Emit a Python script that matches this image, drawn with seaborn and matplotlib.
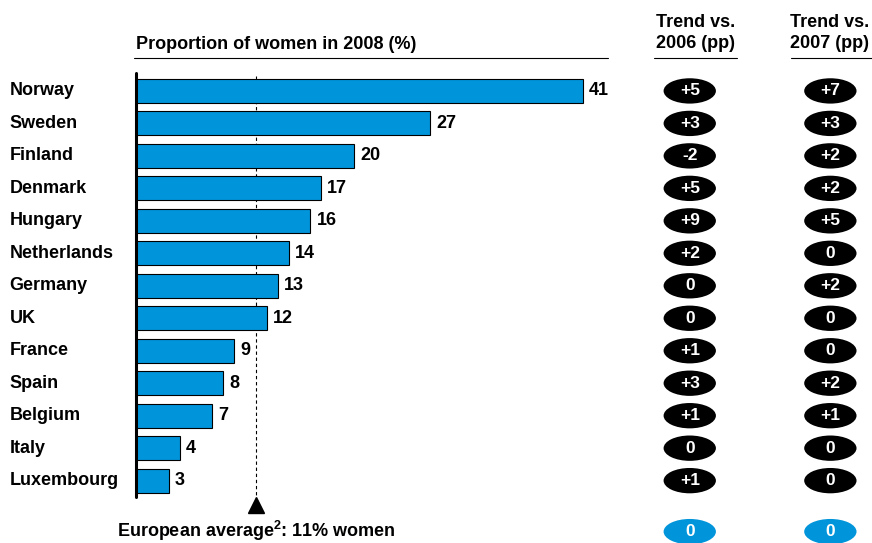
import pandas as pd
import seaborn as sns
import matplotlib.pyplot as plt
from matplotlib.patches import Ellipse

# Chart data
countries = ["Norway", "Sweden", "Finland", "Denmark", "Hungary", "Netherlands", "Germany",
             "UK", "France", "Spain", "Belgium", "Italy", "Luxembourg"]
women_share = [41, 27, 20, 17, 16, 14, 13, 12, 9, 8, 7, 4, 3]
trend_2006 = ["+5", "+3", "-2", "+5", "+9", "+2", "0", "0", "+1", "+3", "+1", "0", "+1"]
trend_2007 = ["+7", "+3", "+2", "+2", "+5", "0", "+2", "0", "0", "+2", "+1", "0", "0"]
trend_headers = ["Trend vs.\n2006 (pp)", "Trend vs.\n2007 (pp)"]
european_avg = 11
avg_trend_2006 = "0"
avg_trend_2007 = "0"

df = pd.DataFrame({"Country": countries, "Share": women_share})

blue = "#0095DA"
sns.set_style("white")
plt.rcParams["font.family"] = ["Liberation Sans", "DejaVu Sans"]
plt.rcParams["text.color"] = "black"
plt.rcParams["mathtext.fontset"] = "custom"
plt.rcParams["mathtext.bf"] = "Liberation Sans:bold"
plt.rcParams["mathtext.rm"] = "Liberation Sans:bold"

fig = plt.figure(figsize=(8.72, 5.43), dpi=100)
ax = fig.add_axes([0, 0, 1, 1])

# Bars
sns.barplot(data=df, x="Share", y="Country", orient="h", color=blue,
            edgecolor="black", linewidth=0.8, width=0.74, saturation=1, ax=ax)

# Data units are laid out to fill the whole figure
ax.set_xlim(-12.48, 67.52)
ax.set_ylim(13.92, -2.8)
ax.axis("off")

fs = 13
for i, (c, v) in enumerate(zip(countries, women_share)):
    ax.text(-11.6, i, c, ha="left", va="center", fontsize=fs, fontweight="bold")
    ax.text(v + 0.55, i, str(v), ha="left", va="center", fontsize=fs, fontweight="bold")

# Value axis line and average line
ax.plot([0, 0], [-0.55, 12.5], color="black", lw=2.2, clip_on=False)
ax.plot([european_avg, european_avg], [-0.45, 12.65], color="black", lw=0.8,
        ls=(0, (3, 2.5)), zorder=0)
ax.plot([european_avg], [12.75], marker="^", color="black", markersize=11)
ax.text(european_avg, 13.55, "European average$^{2}$: 11% women", ha="center",
        va="center", fontsize=fs, fontweight="bold")

# Headers
ax.text(0, -1.42, "Proportion of women in 2008 (%)", ha="left", va="center",
        fontsize=fs, fontweight="bold")
ax.plot([-0.2, 43.3], [-1.0, -1.0], color="black", lw=0.8)
for x, h in zip([51.3, 63.6], trend_headers):
    ax.text(x, -1.78, h, ha="center", va="center", fontsize=fs, fontweight="bold",
            linespacing=1.3)
ax.plot([47.5, 55.1], [-1.0, -1.0], color="black", lw=0.8)
ax.plot([60.1, 67.5], [-1.0, -1.0], color="black", lw=0.8)

# Trend ellipses
ell_x = [50.8, 63.7]
for i in range(len(countries)):
    for x, lab in zip(ell_x, [trend_2006[i], trend_2007[i]]):
        ax.add_patch(Ellipse((x, i), 4.8, 0.78, facecolor="black", edgecolor="none"))
        ax.text(x, i, lab, ha="center", va="center", color="white", fontsize=fs - 0.5,
                fontweight="bold")
avg_y = 13.57
for x, lab in zip(ell_x, [avg_trend_2006, avg_trend_2007]):
    ax.add_patch(Ellipse((x, avg_y), 4.8, 0.78, facecolor=blue, edgecolor="none"))
    ax.text(x, avg_y, lab, ha="center", va="center", color="white", fontsize=fs - 0.5,
            fontweight="bold")

fig.savefig("out.png", dpi=100)
